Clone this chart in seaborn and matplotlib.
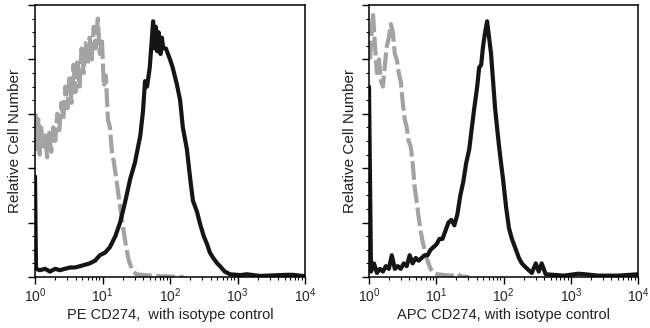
import numpy as np
import pandas as pd
import matplotlib
matplotlib.use("Agg")
import matplotlib.pyplot as plt
import matplotlib.ticker as mticker
import seaborn as sns

# ---- data (log10 fluorescence channel, relative cell number in % of axis height) ----
pe_iso_log = [0.01, 0.03, 0.05, 0.07, 0.09, 0.12, 0.15, 0.18, 0.21, 0.24, 0.27, 0.30,
              0.33, 0.36, 0.39, 0.42, 0.45, 0.48, 0.51, 0.54, 0.57, 0.60, 0.63, 0.66,
              0.69, 0.72, 0.75, 0.78, 0.81, 0.84, 0.87, 0.90, 0.93, 0.96, 0.99, 1.02,
              1.05, 1.08, 1.11, 1.14, 1.17, 1.21, 1.26, 1.30, 1.35, 1.39, 1.44, 1.50,
              1.63, 1.85, 2.20]
pe_iso_val = [60, 47, 58, 45, 55, 48, 52, 44, 53, 46, 55, 50,
              60, 54, 64, 58, 70, 62, 73, 64, 78, 68, 80, 70,
              84, 75, 86, 78, 88, 80, 92, 84, 95, 82, 88, 70,
              74, 58, 55, 46, 42, 35, 26, 19, 11, 6, 2.6, 1.0,
              0.7, 0.3, 0.0]

pe_cd274_log = [0.00, 0.015, 0.07, 0.15, 0.22, 0.30, 0.37, 0.44, 0.52, 0.59, 0.67, 0.74,
                0.81, 0.89, 0.96, 1.04, 1.11, 1.19, 1.26, 1.33, 1.41, 1.48, 1.56, 1.60,
                1.63, 1.66, 1.70, 1.75, 1.77, 1.79, 1.81, 1.83, 1.86, 1.88, 1.90, 1.94,
                2.00, 2.04, 2.10, 2.15, 2.19, 2.25, 2.30, 2.34, 2.40, 2.44, 2.50, 2.55,
                2.59, 2.64, 2.70, 2.74, 2.81, 2.89, 3.04, 3.14, 3.33, 3.73, 3.82, 4.00]
pe_cd274_val = [37, 3, 2.5, 3, 2, 3, 2.5, 3, 3.5, 3.5, 4, 4.5,
                5, 6, 8, 9, 11, 15, 20, 27, 36, 42, 52, 61,
                72, 70, 77, 94, 84, 92, 83, 90, 82, 88, 84, 84,
                80, 77, 71, 65, 55, 47, 36, 28, 24, 20, 15, 12,
                9, 7, 5, 4, 2, 1, 0.7, 1, 0.4, 0.8, 0.8, 0.3]

apc_iso_log = [0.015, 0.044, 0.059, 0.089, 0.118, 0.148, 0.177, 0.207, 0.236, 0.266,
               0.295, 0.325, 0.354, 0.384, 0.413, 0.443, 0.472, 0.502, 0.531, 0.561,
               0.590, 0.620, 0.649, 0.679, 0.708, 0.738, 0.768, 0.797, 0.827, 0.856,
               0.886, 0.915, 0.959, 1.018, 1.122, 1.225, 1.314, 1.373, 1.491]
apc_iso_val = [80, 92, 97, 85, 75, 80, 72, 70, 78, 85,
               88, 93, 90, 82, 80, 75, 72, 64, 58, 55,
               50, 48, 42, 33, 28, 22, 17, 13, 10, 7,
               5, 3, 1.5, 1, 0.7, 0.5, 1.2, 0.2, 0.0]

apc_cd274_log = [0.00, 0.03, 0.074, 0.118, 0.162, 0.207, 0.251, 0.295, 0.339, 0.384,
                 0.428, 0.472, 0.517, 0.561, 0.605, 0.649, 0.694, 0.738, 0.782, 0.827,
                 0.871, 0.915, 0.959, 1.004, 1.048, 1.092, 1.137, 1.181, 1.225, 1.269,
                 1.314, 1.358, 1.402, 1.446, 1.491, 1.520, 1.565, 1.609, 1.638, 1.668,
                 1.697, 1.727, 1.756, 1.786, 1.815, 1.845, 1.875, 1.904, 1.934, 1.963,
                 1.993, 2.037, 2.081, 2.125, 2.185, 2.229, 2.273, 2.332, 2.376, 2.421,
                 2.480, 2.524, 2.568, 2.627, 2.745, 2.893, 3.114, 3.218, 3.41, 3.70, 4.00]
apc_cd274_val = [70, 2, 5, 1.5, 3, 2, 4, 3, 8, 3,
                 4, 3, 5, 4, 8, 5, 7, 6, 7, 8,
                 8, 10, 11, 12, 14, 14, 17, 20, 21, 19,
                 23, 30, 35, 42, 47, 53, 62, 70, 77, 78,
                 85, 90, 94, 88, 82, 72, 62, 55, 48, 42,
                 36, 26, 18, 14, 10, 7, 5, 3.5, 2.5, 1.5,
                 5, 2, 5, 1, 0.8, 0.5, 1.2, 1, 0.5, 0.5, 1]

x_labels = ["PE CD274,  with isotype control", "APC CD274, with isotype control"]
y_label = "Relative Cell Number"

# ---- styling ----
sns.set_style("ticks")
plt.rcParams["font.family"] = ["Liberation Sans", "DejaVu Sans"]
plt.rcParams["mathtext.fontset"] = "custom"
plt.rcParams["mathtext.rm"] = "Liberation Sans"

fig = plt.figure(figsize=(6.5, 3.28), dpi=100)
axes = [fig.add_axes([35 / 650, 51 / 328, 270 / 650, 272 / 328]),
        fig.add_axes([369 / 650, 51 / 328, 269 / 650, 272 / 328])]

panels = [(pe_iso_log, pe_iso_val, pe_cd274_log, pe_cd274_val),
          (apc_iso_log, apc_iso_val, apc_cd274_log, apc_cd274_val)]

for ax, (il, iv, cl, cv), xl in zip(axes, panels, x_labels):
    iso = pd.DataFrame({"x": np.power(10.0, il), "y": iv})
    pos = pd.DataFrame({"x": np.power(10.0, cl), "y": cv})
    sns.lineplot(data=iso, x="x", y="y", ax=ax, estimator=None, sort=False,
                 color="#a3a3a3", linewidth=3.0, linestyle=(0, (4.5, 1.1)))
    sns.lineplot(data=pos, x="x", y="y", ax=ax, estimator=None, sort=False,
                 color="#151515", linewidth=3.0)
    ax.set_xscale("log")
    ax.set_xlim(1, 1e4)
    ax.set_ylim(0, 100)
    ax.xaxis.set_major_locator(mticker.LogLocator(base=10, numticks=10))
    ax.xaxis.set_minor_locator(mticker.LogLocator(base=10, subs=np.arange(2, 10), numticks=20))
    ax.yaxis.set_major_locator(mticker.MultipleLocator(20))
    ax.yaxis.set_minor_locator(mticker.MultipleLocator(5))
    ax.yaxis.set_major_formatter(mticker.NullFormatter())
    ax.tick_params(axis="both", which="major", direction="out", length=5, width=1,
                   color="black", labelsize=10, pad=2)
    ax.tick_params(axis="both", which="minor", direction="out", length=2.5, width=0.8,
                   color="black")
    for s in ax.spines.values():
        s.set_visible(True)
        s.set_color("black")
        s.set_linewidth(1.1)
    ax.set_xlabel(xl, fontsize=10.5, color="#222222", labelpad=2)
    ax.set_ylabel(y_label, fontsize=11, color="#222222", labelpad=2)

fig.savefig("out.png", dpi=100)
